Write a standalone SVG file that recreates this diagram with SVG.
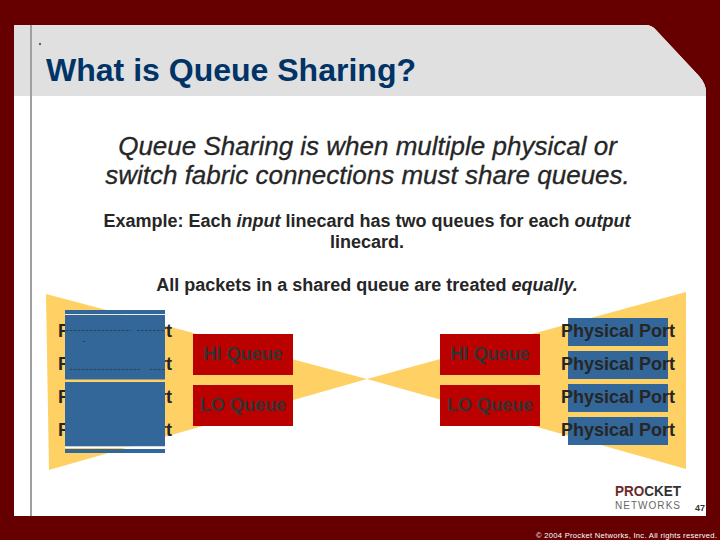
<svg xmlns="http://www.w3.org/2000/svg" width="720" height="540" viewBox="0 0 720 540">
<style>
text{font-family:"Liberation Sans",Arial,sans-serif}
.m{font-weight:bold;font-size:18px;fill:#262626;text-anchor:middle}
.q{font-weight:bold;font-size:18px;fill:#333;text-anchor:middle}
.p{font-weight:bold;font-size:18px;fill:#262626}
.l{font-size:26px;fill:#262626;text-anchor:middle;font-style:italic;stroke:#262626;stroke-width:.3}
.blue{fill:#336699}
.red{fill:#bb0000}
.fan{fill:#ffd063}
</style>
<rect width="720" height="540" fill="#660000"/>
<path d="M14 25H645Q652 25 656 30L699 76Q706 84 706 92V516H14Z" fill="#fff"/>
<path d="M14 25H645Q652 25 656 30L699 76Q706 84 706 92V96H14Z" fill="#e0e0e0"/>
<rect x="30" y="25" width="2" height="491" fill="#a0a0a0"/>
<circle cx="40" cy="44" r="1.2" fill="#666"/>
<text x="46" y="81" font-size="32" font-weight="bold" fill="#003366" textLength="370" lengthAdjust="spacingAndGlyphs">What is Queue Sharing?</text>
<text class="l" x="367.5" y="155">Queue Sharing is when multiple physical or</text>
<text class="l" x="367.5" y="184">switch fabric connections must share queues.</text>
<text class="m" x="367" y="227">Example: Each <tspan font-style="italic">input</tspan> linecard has two queues for each <tspan font-style="italic">output</tspan></text>
<text class="m" x="367" y="248">linecard.</text>
<text class="m" x="367" y="291">All packets in a shared queue are treated <tspan font-style="italic">equally.</tspan></text>
<g id="fan-left"><polygon class="fan" points="46,294 367,379 49,470"/></g>
<g id="fan-right"><polygon class="fan" points="686,292 367,379 686,469"/></g>
<g id="left-ports">
<text class="p" x="58" y="337">Physical Port</text>
<text class="p" x="58" y="370">Physical Port</text>
<text class="p" x="58" y="403">Physical Port</text>
<text class="p" x="58" y="436">Physical Port</text>
<rect class="blue" x="65" y="310" width="100" height="4.3"/>
<rect x="65" y="314.3" width="100" height="1" fill="#fff"/>
<rect class="blue" x="65" y="315" width="100" height="64.5"/>
<rect class="blue" x="65" y="382" width="100" height="64.5"/>
<rect x="65" y="446.5" width="100" height="1.5" fill="#fff"/>
<rect class="blue" x="65" y="449" width="100" height="4"/>
<path d="M66 330.5H131M137 330.5H165M70 369.5H140M150 369.5H165M83 341.5H86" stroke="#262626" stroke-width=".6" stroke-dasharray="2.5 1.5" fill="none"/>
</g>
<g id="hi-left"><rect class="red" x="193" y="334" width="100" height="41"/><text class="q" x="243" y="360">HI Queue</text></g>
<g id="lo-left"><rect class="red" x="193" y="385" width="100" height="41"/><text class="q" x="243" y="411">LO Queue</text></g>
<g id="hi-right"><rect class="red" x="440" y="334" width="100" height="41"/><text class="q" x="490" y="360">HI Queue</text></g>
<g id="lo-right"><rect class="red" x="440" y="385" width="100" height="41"/><text class="q" x="490" y="411">LO Queue</text></g>
<g id="right-ports">
<rect class="blue" x="568" y="318" width="100" height="28"/>
<rect class="blue" x="568" y="351" width="100" height="28"/>
<rect class="blue" x="568" y="384" width="100" height="28"/>
<rect class="blue" x="568" y="417" width="100" height="28"/>
<text class="p" x="561" y="337">Physical Port</text>
<text class="p" x="561" y="370">Physical Port</text>
<text class="p" x="561" y="403">Physical Port</text>
<text class="p" x="561" y="436">Physical Port</text>
</g>
<g id="logo">
<text x="615" y="496" font-size="14" font-weight="bold" fill="#333" textLength="66" lengthAdjust="spacingAndGlyphs"><tspan fill="#6b2a2a">PRO</tspan>CKET</text>
<text x="615" y="509" font-size="10" fill="#666" textLength="65">NETWORKS</text>
</g>
<text x="695" y="511" font-size="9" font-weight="bold" fill="#333">47</text>
<text x="536" y="538" font-size="7.6" fill="#fff" textLength="181">© 2004 Procket Networks, Inc. All rights reserved.</text>
</svg>
